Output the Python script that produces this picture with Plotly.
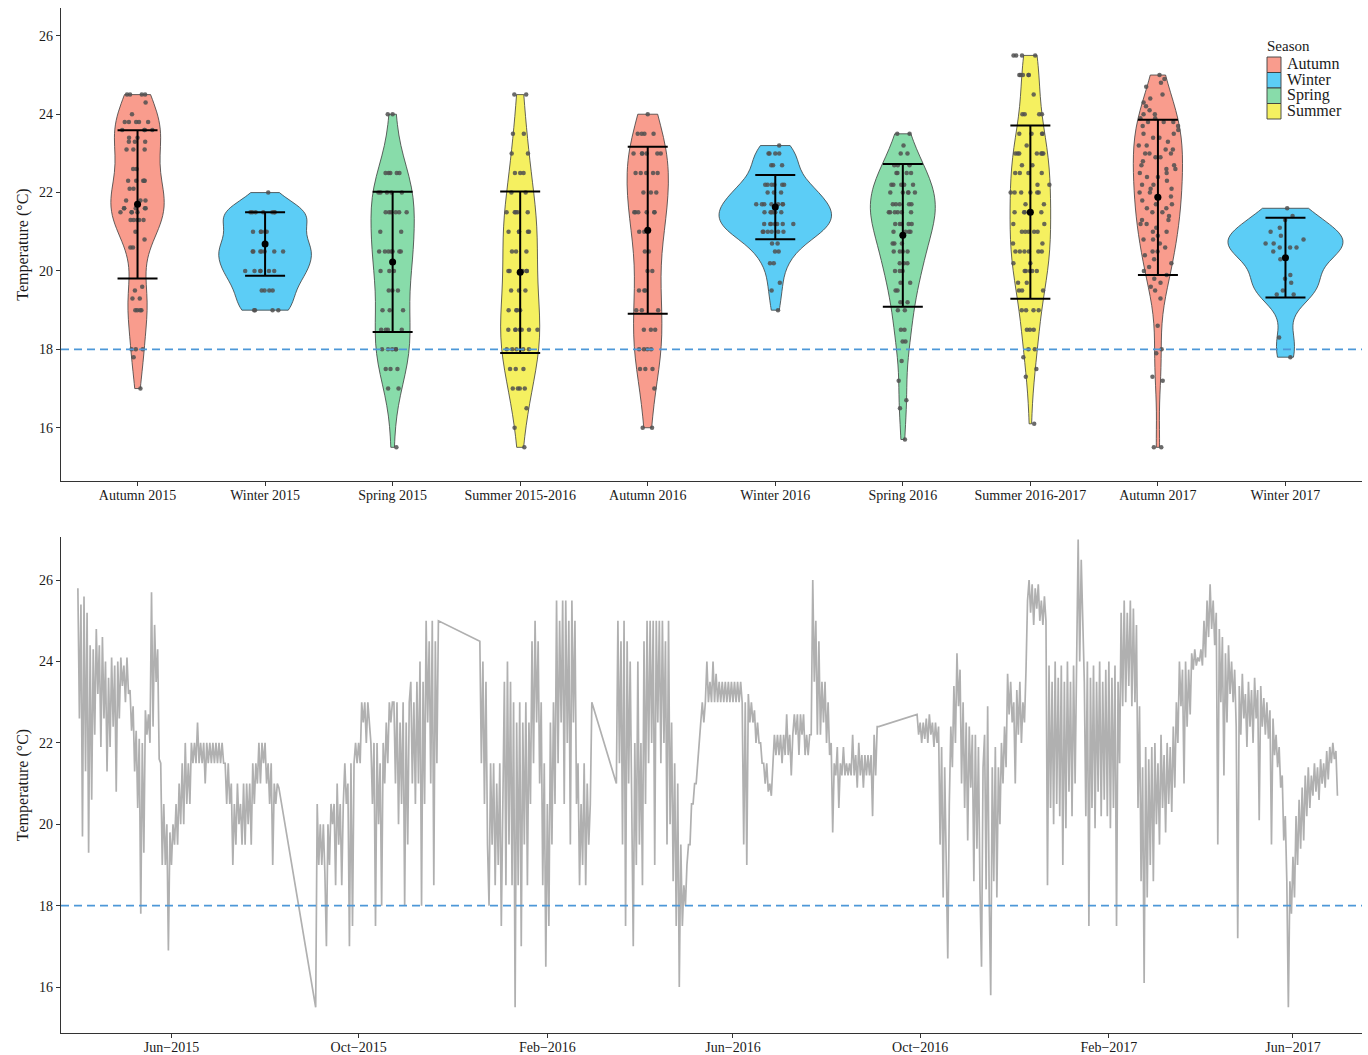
import numpy as np
import pandas as pd
import plotly.graph_objects as go
from plotly.subplots import make_subplots

# ---------------- seasonal samples (°C) ----------------
SEASON_LABELS = ["Autumn 2015", "Winter 2015", "Spring 2015", "Summer 2015-2016",
                 "Autumn 2016", "Winter 2016", "Spring 2016", "Summer 2016-2017",
                 "Autumn 2017", "Winter 2017"]
SEASON_TYPES = ["Autumn", "Winter", "Spring", "Summer", "Autumn",
                "Winter", "Spring", "Summer", "Autumn", "Winter"]
LEGEND_ORDER = ["Autumn", "Winter", "Spring", "Summer"]

AUTUMN_2015 = [24.5, 24.5, 24.5, 24.5, 24.3, 24.0, 23.8, 23.8, 23.8, 23.8, 23.8,
               23.6, 23.6, 23.6, 23.6, 23.4, 23.4, 23.3, 23.3, 23.3, 23.1, 23.1, 23.1,
               22.6, 22.6, 22.3, 22.3, 22.3, 22.3, 22.3, 22.1, 22.1, 21.8, 21.8, 21.8,
               21.6, 21.6, 21.6, 21.6, 21.6, 21.5, 21.5, 21.5, 21.5, 21.3, 21.3, 21.3,
               21.3, 21.3, 21.0, 20.8, 20.6, 20.6, 19.6, 19.5, 19.3, 19.3, 19.0, 19.0,
               19.0, 19.0, 18.0, 18.0, 18.0, 17.8, 17.0]
WINTER_2015 = [22.0, 21.5, 21.5, 21.5, 21.5, 21.5, 21.5, 21.5, 21.0, 21.0, 21.0, 21.0,
               21.0, 20.5, 20.5, 20.5, 20.5, 20.5, 20.5, 20.5, 20.0, 20.0, 20.0, 20.0,
               20.0, 20.0, 19.5, 19.5, 19.5, 19.5, 19.0, 19.0, 19.0, 19.0]
SPRING_2015 = [24.0, 24.0, 22.5, 22.5, 22.5, 22.5, 22.5, 22.0, 22.0, 22.0, 22.0, 22.0,
               21.5, 21.5, 21.5, 21.5, 21.5, 21.5, 21.0, 21.0, 20.5, 20.5, 20.5, 20.5,
               20.5, 20.5, 20.5, 20.0, 20.0, 20.0, 19.5, 19.5, 19.5, 19.0, 19.0, 19.0,
               18.5, 18.5, 18.5, 18.5, 18.0, 18.0, 18.0, 18.0, 18.0, 17.5, 17.5, 17.5,
               17.0, 17.0, 15.5]
SUMMER_2015_16 = [24.5, 24.5, 23.5, 23.5, 23.0, 23.0, 22.5, 22.5, 22.5, 22.0, 22.0,
                  21.5, 21.5, 21.5, 21.5, 21.5, 21.0, 21.0, 21.0, 21.0, 21.0, 20.5, 20.5,
                  20.5, 20.0, 20.0, 20.0, 20.0, 20.0, 19.5, 19.5, 19.5, 19.0, 19.0, 19.0,
                  19.0, 18.5, 18.5, 18.5, 18.5, 18.5, 18.5, 18.5, 18.0, 18.0, 18.0, 18.0,
                  18.0, 17.5, 17.5, 17.5, 17.0, 17.0, 17.0, 17.0, 16.5, 16.0, 15.5]
AUTUMN_2016 = [24.0, 23.5, 23.5, 23.5, 23.5, 23.0, 23.0, 23.0, 23.0, 23.0, 23.0,
               22.5, 22.5, 22.5, 22.5, 22.5, 22.0, 22.0, 22.0, 21.5, 21.5, 21.5, 21.5,
               21.5, 21.5, 21.0, 21.0, 21.0, 20.5, 20.5, 20.0, 20.0, 19.5, 19.5, 19.5,
               19.0, 19.0, 19.0, 18.5, 18.5, 18.5, 18.0, 18.0, 18.0, 18.0, 17.5, 17.5,
               17.5, 17.0, 16.0, 16.0]
WINTER_2016 = [23.2, 23.0, 23.0, 23.0, 23.0, 22.7, 22.7, 22.7, 22.2, 22.2, 22.2, 22.2,
               22.2, 22.2, 22.0, 22.0, 22.0, 21.7, 21.7, 21.7, 21.7, 21.7, 21.7, 21.7,
               21.5, 21.5, 21.5, 21.5, 21.5, 21.5, 21.2, 21.2, 21.2, 21.2, 21.2, 21.2,
               21.2, 21.0, 21.0, 21.0, 21.0, 21.0, 21.0, 20.7, 20.7, 20.5, 20.5, 20.2,
               20.2, 19.7, 19.5, 19.0]
SPRING_2016 = [23.5, 23.5, 23.2, 23.0, 23.0, 22.7, 22.7, 22.7, 22.5, 22.5, 22.5, 22.5,
               22.2, 22.2, 22.2, 22.2, 22.2, 22.0, 22.0, 22.0, 22.0, 22.0, 21.7, 21.7,
               21.7, 21.7, 21.7, 21.5, 21.5, 21.5, 21.5, 21.5, 21.5, 21.2, 21.2, 21.2,
               21.2, 21.2, 21.0, 21.0, 21.0, 21.0, 20.7, 20.7, 20.7, 20.5, 20.5, 20.5,
               20.5, 20.2, 20.2, 20.2, 20.0, 20.0, 20.0, 19.7, 19.7, 19.5, 19.5, 19.2,
               19.2, 19.0, 19.0, 18.5, 18.5, 18.2, 18.2, 17.7, 17.2, 16.7, 16.5, 15.7]
SUMMER_2016_17 = [25.5, 25.5, 25.5, 25.5, 25.0, 25.0, 25.0, 25.0, 25.0, 24.5, 24.0,
                  24.0, 24.0, 24.0, 23.5, 23.5, 23.5, 23.5, 23.2, 23.0, 23.0, 23.0, 23.0,
                  23.0, 23.0, 23.0, 22.7, 22.7, 22.5, 22.5, 22.5, 22.5, 22.2, 22.2, 22.0,
                  22.0, 22.0, 22.0, 22.0, 22.0, 21.7, 21.7, 21.5, 21.5, 21.5, 21.5, 21.5,
                  21.2, 21.2, 21.0, 21.0, 21.0, 21.0, 21.0, 20.7, 20.7, 20.5, 20.5, 20.5,
                  20.5, 20.5, 20.5, 20.2, 20.2, 20.0, 20.0, 20.0, 20.0, 20.0, 19.7, 19.7,
                  19.5, 19.5, 19.5, 19.0, 19.0, 19.0, 19.0, 18.5, 18.5, 18.5, 18.0, 18.0,
                  17.8, 17.5, 17.3, 16.1]
AUTUMN_2017 = [25.0, 24.9, 24.8, 24.7, 24.5, 24.4, 24.3, 24.2, 24.1, 24.0, 24.0, 23.9,
               23.9, 23.8, 23.8, 23.8, 23.7, 23.7, 23.6, 23.5, 23.5, 23.4, 23.4, 23.3,
               23.2, 23.2, 23.1, 23.1, 23.0, 23.0, 23.0, 22.9, 22.9, 22.8, 22.7, 22.7,
               22.6, 22.6, 22.5, 22.5, 22.4, 22.4, 22.3, 22.2, 22.2, 22.1, 22.1, 22.0,
               22.0, 21.9, 21.9, 21.8, 21.7, 21.7, 21.6, 21.6, 21.5, 21.5, 21.4, 21.3,
               21.3, 21.2, 21.2, 21.1, 21.0, 21.0, 20.9, 20.8, 20.8, 20.7, 20.6, 20.5,
               20.5, 20.4, 20.3, 20.2, 20.1, 20.0, 19.9, 19.8, 19.7, 19.6, 19.5, 19.3,
               18.6, 18.0, 17.9, 17.3, 17.2, 15.5, 15.5]
WINTER_2017 = [21.6, 21.4, 21.3, 21.0, 21.1, 20.9, 20.8, 20.7, 20.7, 20.6, 20.6, 20.5,
               20.6, 20.3, 19.9, 19.8, 19.7, 19.4, 19.4, 19.5, 18.3, 17.8]

SEASON_TEMPS = [AUTUMN_2015, WINTER_2015, SPRING_2015, SUMMER_2015_16, AUTUMN_2016,
                WINTER_2016, SPRING_2016, SUMMER_2016_17, AUTUMN_2017, WINTER_2017]

# mean and standard deviation per season
MEAN_T = [21.70, 20.69, 20.23, 19.97, 21.04, 21.63, 20.91, 21.50, 21.88, 20.34]
SD_T = [1.89, 0.81, 1.79, 2.06, 2.13, 0.82, 1.82, 2.21, 1.98, 1.02]

SEASON_COLORS = {"Autumn": "#F99C8D", "Winter": "#5CCDF6",
                 "Spring": "#88DCAA", "Summer": "#F5F060"}

# ---------------- continuous logger record (°C, daily steps) ----------------
SEG1_START = "2015-04-01"
SEG1_TEMP = [25.8, 22.6, 25.4, 19.7, 25.6, 21.3, 25.2, 19.3, 24.4, 20.6, 24.3, 22.2,
             24.8, 23.2, 24.4, 21.9, 24.6, 22.6, 24.0, 21.3, 23.6, 21.9, 24.1, 22.4,
             23.9, 20.8, 24.0, 22.6, 24.1, 23.4, 23.9, 23.0, 24.1, 23.2, 23.3, 22.3,
             22.9, 21.3, 22.3, 20.4, 22.1, 17.8, 22.0, 19.3, 22.8, 22.2, 22.7, 22.0,
             25.7, 22.4, 24.9, 23.5, 24.3, 21.6, 21.5, 19.0, 20.5, 19.0, 20.0, 16.9,
             19.8, 19.0, 20.0, 19.5, 20.5, 19.5, 21.0, 20.0, 21.5, 20.0, 22.0, 20.5,
             21.5, 20.5, 22.0, 21.5, 22.0, 21.5, 22.5, 21.5, 22.0, 21.5, 22.0, 21.0,
             22.0, 21.5, 22.0, 21.5, 22.0, 21.5, 22.0, 21.5, 22.0, 21.5, 22.0, 21.5,
             21.5, 20.5, 21.5, 20.5, 21.0, 19.0, 20.5, 19.5, 21.0, 20.0, 20.5, 19.5,
             21.0, 19.5, 21.0, 20.0, 21.0, 19.5, 21.5, 20.5, 21.5, 21.0, 22.0, 21.0,
             22.0, 21.5, 22.0, 21.0, 21.5, 20.5, 21.5, 19.0, 21.0, 20.5, 21.0, 20.9]
SEG2_START = "2015-09-03"
SEG2_TEMP = [15.5,
             20.5, 19.0, 20.0, 19.0, 20.0, 18.8, 17.0, 20.0, 19.0,
             20.5, 20.0, 20.5, 18.5, 21.0, 19.5, 20.5, 18.5, 20.5,
             21.5, 20.5, 21.0, 17.0, 21.5, 17.5, 21.5,
             22.0, 21.5, 22.0, 21.5,
             23.0, 22.5, 23.0, 22.0, 23.0, 22.5,
             22.0, 20.5, 22.0, 17.5, 22.0, 20.0, 21.5, 18.0, 22.0, 21.0,
             22.5, 21.5, 23.0, 22.5, 23.0,
             23.0, 21.0, 23.0, 20.0, 22.5, 20.5, 23.0, 18.0, 22.5, 19.5, 23.0,
             23.5, 21.0, 23.0, 20.5, 23.5, 21.0, 24.0, 18.0, 23.5, 20.5,
             25.0, 22.5, 24.5, 21.0, 25.0, 18.5, 24.5, 21.5,
             25.0]
SEG3_START = "2015-12-19"
SEG3_TEMP = [24.5, 21.5, 24.0, 20.5, 23.5, 19.5, 18.0, 21.5, 19.5, 21.5, 18.5, 21.0,
             19.0, 21.5, 17.5,
             20.5, 23.5, 18.5, 24.0, 19.5, 23.5, 18.5, 23.0, 15.5, 22.5,
             18.5, 23.0, 17.0, 22.5, 19.5, 23.0, 18.5, 22.5, 20.5, 24.5,
             21.5, 25.0, 22.5, 24.5, 21.0, 23.0, 18.5, 21.5, 16.5, 20.5,
             17.5, 22.5, 19.5, 23.0, 20.5, 25.5, 21.5, 25.0, 22.5, 25.5,
             20.5, 25.5, 22.0, 25.0, 19.5, 25.5, 22.5, 25.0, 20.5, 21.5,
             18.5, 20.5, 19.0, 21.5, 18.5, 21.0, 19.5, 20.5, 23.0]
SEG4_START = "2016-03-17"
SEG4_TEMP = [21.0, 25.0, 21.5, 24.5, 19.5, 25.0, 17.5, 24.5, 21.0,
             24.0, 20.0, 17.0, 22.0, 19.0, 24.0,
             19.5, 22.0, 18.5, 24.5, 20.5, 25.0, 21.5,
             25.0, 22.0, 25.0, 19.0, 25.0, 22.5, 25.0, 21.5, 25.0, 22.0, 24.5, 19.5, 25.0,
             20.0, 22.5, 18.6, 21.5, 17.5, 21.0, 16.0, 19.5,
             17.5, 18.5, 18.0, 19.0, 19.5, 19.5, 20.5, 20.5, 21.0, 21.0, 21.5, 22.0,
             22.5, 23.0, 22.5, 23.0, 24.0, 23.0,
             23.5, 23.0, 24.0, 23.0, 23.7, 23.0, 23.5, 23.0, 23.5, 23.0, 23.5, 23.0,
             23.5, 23.0, 23.5, 23.0, 23.5, 23.0, 23.5, 23.0, 23.5, 23.0,
             19.5, 23.0, 19.0,
             23.2, 22.5, 23.0, 22.5, 22.8, 22.0, 22.5, 22.0, 22.0, 21.5,
             21.5, 21.0, 21.5, 20.8, 21.0, 20.7, 21.5,
             22.2, 21.7, 22.2, 21.7, 22.2, 21.5, 22.2, 21.7, 22.7, 21.7, 22.2, 21.2, 22.2,
             22.7, 22.2, 22.7, 21.7, 22.7, 22.2, 22.7, 21.7, 22.2, 21.7, 22.2, 22.2,
             26.0, 23.5, 25.0, 22.2, 24.5, 22.2, 23.5,
             22.5, 23.5, 22.0, 23.0, 21.7, 22.0,
             19.8, 21.5, 21.2, 21.9, 20.4, 21.5, 21.2, 21.9, 21.2, 21.5, 21.2, 21.5, 21.2,
             22.2, 21.2, 21.7, 20.9, 22.0, 21.2, 21.7, 20.9, 21.7, 21.2, 21.7, 21.2,
             21.7, 20.2, 22.2, 21.2, 22.4, 22.4]
SEG5_START = "2016-09-29"
SEG5_TEMP = [22.7, 22.2, 22.5, 22.0, 22.5, 22.1, 22.6, 22.0, 22.7, 22.2, 22.5, 21.9,
             22.5, 22.0, 22.4,
             19.5, 21.9, 18.2, 21.4, 19.0, 16.7, 20.5,
             22.4, 21.4, 23.4, 22.0, 24.2, 22.9, 23.8,
             21.0, 23.0, 20.4, 22.5, 19.6, 22.4, 20.9,
             22.2, 18.6, 22.2, 19.4, 21.9, 18.4, 16.5, 21.4,
             22.2, 18.4, 22.9, 18.2, 15.8, 21.4, 18.6, 21.9, 18.2,
             21.4, 20.0, 22.0, 21.0, 22.4, 21.4,
             23.7, 22.7, 23.5, 22.5, 23.0, 21.0, 23.3, 22.2, 23.5, 22.0, 23.0, 22.5, 23.8,
             25.5, 26.0, 25.2, 25.9, 24.9, 25.8, 25.3, 25.9, 25.0, 25.5, 24.9, 25.6, 25.0,
             18.5, 23.9, 20.4, 23.5, 20.0, 24.0, 20.5, 23.6, 20.2,
             23.9, 19.0, 23.5, 19.9, 24.0, 20.8, 23.5, 20.2, 23.9, 21.0, 23.5,
             27.0, 24.0, 26.5, 25.0,
             23.5, 20.2, 24.0, 17.5, 23.6, 20.4, 23.9, 19.9, 23.5, 20.8, 24.0, 20.2,
             23.5, 20.6, 23.8,
             20.2, 24.0, 19.9, 23.6, 20.4, 23.9, 17.5, 23.5, 21.5, 25.2,
             22.9, 25.5, 23.0, 25.2, 23.4, 25.5, 22.9, 25.3, 23.0, 24.9,
             20.4, 22.9, 18.6, 21.4, 16.1, 21.9, 18.2,
             21.6, 19.0, 21.9, 18.6, 22.0, 20.0, 21.5, 19.5, 22.2, 20.4, 21.7, 19.8,
             22.0, 20.5, 21.9, 20.3, 22.4, 20.9, 23.0,
             22.0, 24.0, 22.9, 23.8, 21.0, 24.0, 22.4, 23.8, 22.7, 24.2, 23.8,
             24.3, 23.9, 24.1, 24.0, 24.3, 23.9,
             25.0, 24.1, 25.5, 24.6, 25.9, 24.8, 25.5, 24.4, 25.2, 19.5, 24.8,
             23.0, 24.6, 21.2, 24.2, 22.5, 24.4, 23.2, 24.0, 23.0, 23.8, 22.4,
             17.2, 23.4, 22.2, 23.7, 22.6, 23.2, 21.9, 23.5, 22.4, 23.3, 22.0, 23.6,
             22.6, 23.3, 20.1, 23.4, 22.4,
             23.1, 22.2, 23.0, 22.1, 22.8, 19.5, 22.6, 21.7, 22.2, 21.4, 21.9,
             20.9, 21.2, 19.6, 20.2, 18.6,
             15.5, 18.6, 17.8, 19.2,
             18.2, 20.2, 19.0, 20.6, 19.4, 20.9, 19.6, 21.2, 20.2, 21.4, 20.4,
             21.2, 20.7, 21.5, 20.8, 21.4, 20.6, 21.6, 21.0, 21.5, 20.9, 21.8, 21.1, 21.9,
             21.5, 22.0, 21.6, 21.8, 20.7]

SEGMENTS = [(SEG1_START, SEG1_TEMP), (SEG2_START, SEG2_TEMP), (SEG3_START, SEG3_TEMP),
            (SEG4_START, SEG4_TEMP), (SEG5_START, SEG5_TEMP)]

DATE_TICKS = ["2015-06-01", "2015-10-01", "2016-02-01", "2016-06-01",
              "2016-10-01", "2017-02-01", "2017-06-01"]
DATE_TICK_TEXT = ["Jun\u22122015", "Oct\u22122015", "Feb\u22122016", "Jun\u22122016",
                  "Oct\u22122016", "Feb\u22122017", "Jun\u22122017"]

THRESHOLD = 18
FONT = "Liberation Serif"
TEXT_COLOR = "#1a1a1a"

W, H = 1368, 1055
M_L, M_R, M_T, M_B = 61, 6, 8, 22
PLOT_W = W - M_L - M_R
PLOT_H = H - M_T - M_B


def px_to_paper(x_px, y_px):
    return (x_px - M_L) / PLOT_W, (H - M_B - y_px) / PLOT_H


def nrd0(v):
    """Silverman-type bandwidth as used by R's density()."""
    v = np.asarray(v, dtype=float)
    sd = v.std(ddof=1)
    q75, q25 = np.percentile(v, [75, 25])
    lo = min(sd, (q75 - q25) / 1.34)
    if lo <= 0:
        lo = sd if sd > 0 else 1.0
    return 0.9 * lo * len(v) ** -0.2


def peak_density(v, bw):
    v = np.asarray(v, dtype=float)
    grid = np.linspace(v.min(), v.max(), 512)
    z = (grid[:, None] - v[None, :]) / bw
    dens = np.exp(-0.5 * z ** 2).sum(axis=1) / (len(v) * bw * np.sqrt(2 * np.pi))
    return dens.max()


# equal-area scaling: widest violin takes 0.9 of a category slot
bws = [nrd0(v) for v in SEASON_TEMPS]
peaks = np.array([peak_density(v, b) for v, b in zip(SEASON_TEMPS, bws)])
widths = 0.9 * peaks / peaks.max()

fig = make_subplots(rows=2, cols=1)

for label, stype, vals, bw, w in zip(SEASON_LABELS, SEASON_TYPES, SEASON_TEMPS, bws, widths):
    jit = float(min(1.0, 0.32 / w))
    fig.add_trace(go.Violin(
        x=[label] * len(vals), y=vals,
        name=stype, legendgroup=stype, showlegend=False,
        fillcolor=SEASON_COLORS[stype],
        line=dict(color="#3c3c3c", width=0.8),
        opacity=1,
        spanmode="hard", bandwidth=bw, scalemode="width", width=float(w),
        points="all", jitter=jit, pointpos=0,
        marker=dict(color="rgba(80,80,80,0.85)", size=4.5, line=dict(width=0)),
        box_visible=False, meanline_visible=False, hoverinfo="y",
    ), row=1, col=1)

# mean ± SD
fig.add_trace(go.Scatter(
    x=SEASON_LABELS, y=MEAN_T, mode="markers",
    marker=dict(color="black", size=7),
    error_y=dict(type="data", array=SD_T, width=20, thickness=2, color="black"),
    showlegend=False, hoverinfo="skip",
), row=1, col=1)

# continuous record
dates, temps = [], []
for start, vals in SEGMENTS:
    dates += list(pd.date_range(start, periods=len(vals), freq="D"))
    temps += vals
fig.add_trace(go.Scatter(
    x=dates, y=temps, mode="lines",
    line=dict(color="#b0b0b0", width=1.7),
    showlegend=False, hoverinfo="skip",
), row=2, col=1)

for r in (1, 2):
    fig.add_hline(y=THRESHOLD, line=dict(color="#4d98d8", width=1.6, dash="8px,5px"),
                  row=r, col=1)

# season key (top right of the violin panel)
tx, ty = px_to_paper(1265, 46)
fig.add_annotation(x=tx, y=ty, xref="paper", yref="paper", text="Season",
                   showarrow=False, xanchor="left", yanchor="middle",
                   font=dict(family=FONT, size=15, color=TEXT_COLOR))
box_top = 57
box_h = 15.5
for k, stype in enumerate(LEGEND_ORDER):
    y0 = box_top + k * box_h
    x0p, y0p = px_to_paper(1267, y0)
    x1p, y1p = px_to_paper(1281, y0 + box_h)
    fig.add_shape(type="rect", xref="paper", yref="paper",
                  x0=x0p, x1=x1p, y0=y1p, y1=y0p,
                  fillcolor=SEASON_COLORS[stype], line=dict(color="#3c3c3c", width=0.9))
    lx, ly = px_to_paper(1285, y0 + box_h / 2 - 1)
    fig.add_annotation(x=lx, y=ly, xref="paper", yref="paper", text=stype,
                       showarrow=False, xanchor="left", yanchor="middle",
                       font=dict(family=FONT, size=16, color=TEXT_COLOR))

axis_style = dict(showline=True, linecolor="#333333", linewidth=1.2,
                  ticks="outside", ticklen=4, tickcolor="#333333", tickwidth=1,
                  showgrid=False, zeroline=False, automargin=False,
                  tickfont=dict(family=FONT, size=14, color=TEXT_COLOR))
fig.update_xaxes(**axis_style, ticklabelstandoff=-3)
fig.update_yaxes(**axis_style)

ytitle = dict(text="Temperature (\u00b0C)", font=dict(family=FONT, size=16, color=TEXT_COLOR),
              standoff=6)

fig.update_layout(
    width=W, height=H,
    margin=dict(l=M_L, r=M_R, t=M_T, b=M_B),
    paper_bgcolor="white", plot_bgcolor="white",
    font=dict(family=FONT, color=TEXT_COLOR),
    violinmode="overlay",
    showlegend=False,
    xaxis=dict(domain=[0, 1], type="category", range=[-0.6, 9.6],
               categoryorder="array", categoryarray=SEASON_LABELS),
    yaxis=dict(domain=[0.5385, 1], range=[14.64, 26.71],
               tickvals=[16, 18, 20, 22, 24, 26], title=ytitle),
    xaxis2=dict(domain=[0, 1], type="date", range=["2015-03-21", "2017-07-16"],
                tickvals=DATE_TICKS, ticktext=DATE_TICK_TEXT),
    yaxis2=dict(domain=[0, 0.4839], range=[14.87, 27.06],
                tickvals=[16, 18, 20, 22, 24, 26], title=ytitle),
)

fig.write_html("out.html")
